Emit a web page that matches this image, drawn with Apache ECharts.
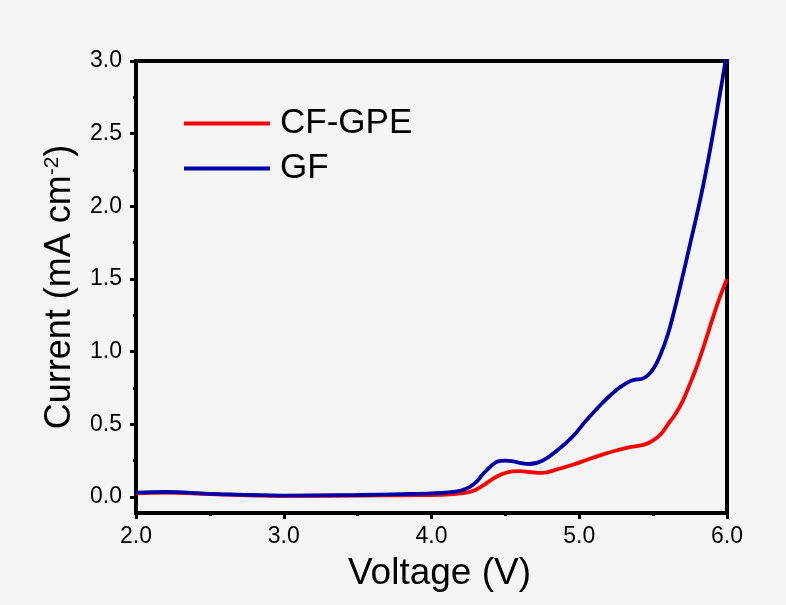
<!DOCTYPE html>
<html lang="en">
<head>
	<meta charset="UTF-8">
	<title>LSV</title>
	<style>
		body, div {
			margin: 0;
			padding: 0;
		}
		#main {
			width: 786px;
			height: 605px;
			background: #f5f5f5;
		}
	</style>
</head>
<body>
	<div id="main"></div>

	<script src="https://cdn.jsdelivr.net/npm/echarts@6/dist/echarts.min.js"></script>

	<script>
    // voltage (V)
    var voltage = [2.0, 2.2, 2.5, 3.0, 3.5, 3.8, 4.0, 4.1, 4.2, 4.26, 4.3, 4.35, 4.4, 4.45, 4.5, 4.55, 4.6, 4.66,
        4.75, 4.85, 4.95, 5.05, 5.15, 5.25, 5.35, 5.44, 5.5, 5.55, 5.6, 5.65, 5.7, 5.75, 5.8, 5.85, 5.9, 5.95, 6.0];
    // current (mA cm-2)
    var gf = [0.03, 0.035, 0.022, 0.01, 0.014, 0.02, 0.025, 0.03, 0.045, 0.07, 0.10, 0.16, 0.21, 0.245, 0.25, 0.245, 0.235, 0.227,
        0.25, 0.32, 0.41, 0.53, 0.64, 0.735, 0.80, 0.82, 0.88, 0.98, 1.12, 1.31, 1.52, 1.74, 1.96, 2.20, 2.47, 2.76, 3.06];
    var cfgpe = [0.025, 0.03, 0.02, 0.008, 0.01, 0.012, 0.014, 0.016, 0.025, 0.035, 0.05, 0.08, 0.115, 0.145, 0.165, 0.176, 0.178, 0.172,
        0.166, 0.19, 0.22, 0.255, 0.29, 0.32, 0.345, 0.36, 0.39, 0.43, 0.50, 0.57, 0.66, 0.78, 0.91, 1.06, 1.22, 1.37, 1.50];
    var yTicks = [0, 0.5, 1.0, 1.5, 2.0, 2.5, 3.0];
    var yMinorTicks = [0.25, 0.75, 1.25, 1.75, 2.25, 2.75];

    function pairs(ys) {
        return voltage.map(function (v, i) { return [v, ys[i]]; });
    }

    var font = 'Liberation Sans, Arial, sans-serif';
    var myEcharts = echarts.init(document.getElementById('main'));

    var options = {
        backgroundColor: '#f5f5f5',
        animation: false,
        grid: {
            left: 136, right: 59, top: 61, bottom: 92,
            show: true,
            borderColor: '#000',
            borderWidth: 4,
            backgroundColor: 'transparent'
        },
        legend: {
            orient: 'vertical',
            left: 179,
            top: 98,
            icon: 'rect',
            itemWidth: 86,
            itemHeight: 4,
            itemGap: 4,
            textStyle: { fontFamily: font, fontSize: 35, color: '#000', lineHeight: 41, padding: [0, 0, 0, 5] },
            data: ['CF-GPE', 'GF']
        },
        xAxis: {
            type: 'value',
            min: 2, max: 6, interval: 1,
            name: 'Voltage (V)',
            nameLocation: 'middle',
            nameGap: 42,
            nameTextStyle: { fontFamily: font, fontSize: 37, color: '#000', padding: [0, 0, 0, 16] },
            axisLine: { onZero: false, lineStyle: { color: '#000', width: 4 } },
            axisTick: { length: 6, lineStyle: { color: '#000', width: 3 } },
            minorTick: { show: true, splitNumber: 2, length: 3, lineStyle: { color: '#000', width: 3 } },
            splitLine: { show: false },
            axisLabel: {
                fontFamily: font, fontSize: 23, color: '#000', margin: 12,
                formatter: function (v) { return v.toFixed(1); }
            }
        },
        yAxis: [{
            type: 'value',
            position: 'left',
            min: -0.11, max: 3.0,
            name: 'Current (mA cm{sup|-2})',
            nameLocation: 'middle',
            nameRotate: 90,
            nameGap: 58,
            nameTextStyle: {
                fontFamily: font, fontSize: 36, color: '#000',
                rich: { sup: { fontFamily: font, fontSize: 21, color: '#000', verticalAlign: 'top', padding: [0, 0, 14, 0] } }
            },
            axisLine: { onZero: false, lineStyle: { color: '#000', width: 4 } },
            axisTick: { length: 6, customValues: yTicks, lineStyle: { color: '#000', width: 3 } },
            splitLine: { show: false },
            axisLabel: {
                fontFamily: font, fontSize: 23, color: '#000', margin: 14,
                customValues: yTicks,
                formatter: function (v) { return v.toFixed(1); }
            }
        }, {
            type: 'value',
            position: 'left',
            min: -0.11, max: 3.0,
            axisLine: { show: false },
            axisTick: { length: 3, customValues: yMinorTicks, lineStyle: { color: '#000', width: 3 } },
            axisLabel: { show: false, customValues: yMinorTicks },
            splitLine: { show: false }
        }],
        series: [{
            name: 'CF-GPE',
            type: 'line',
            smooth: 0.4,
            showSymbol: false,
            color: '#ff0000',
            lineStyle: { width: 3.8 },
            data: pairs(cfgpe)
        }, {
            name: 'GF',
            type: 'line',
            smooth: 0.4,
            showSymbol: false,
            color: '#0000a8',
            lineStyle: { width: 3.8 },
            data: pairs(gf)
        }]
    };

    myEcharts.setOption(options);
	</script>

</body>
</html>
